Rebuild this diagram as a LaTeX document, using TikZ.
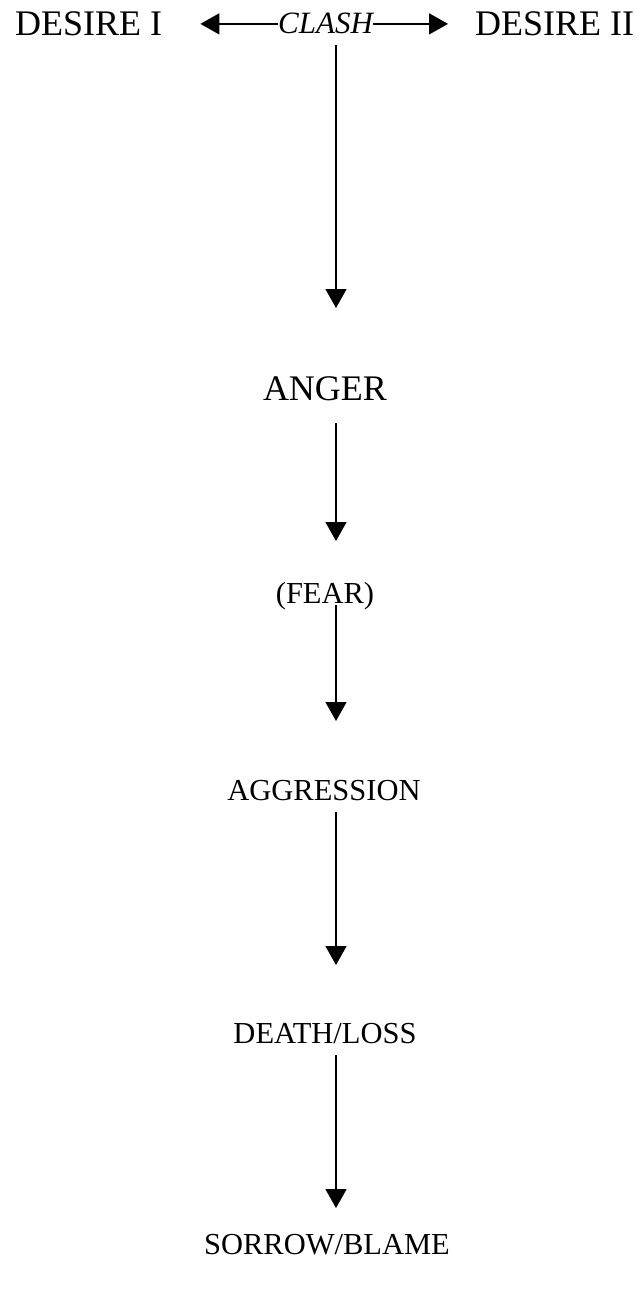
\documentclass[tikz,border=0pt]{standalone}
\usepackage{fontspec}
\setmainfont{Liberation Serif}
\usepackage{tikz}
\usetikzlibrary{arrows.meta}

\tikzset{
  big/.style={inner sep=0pt, font=\fontsize{36}{40}\selectfont},
  small/.style={inner sep=0pt, font=\fontsize{30.5}{34}\selectfont},
  flow/.style={line width=1.6pt, -{Triangle[length=19pt,width=21pt]}}
}

\begin{document}
\begin{tikzpicture}[x=1pt,y=-1pt]
\useasboundingbox (0,0) rectangle (643,1289);
\coordinate (col) at (336,0);
\node[big, anchor=base west] (desireI) at (15,36) {DESIRE I};
\node[big, anchor=base west] (desireII) at (475,36) {DESIRE II};
\node[inner sep=0pt, anchor=base west, font=\fontsize{31}{34}\selectfont\itshape] (clash) at (278,34) {CLASH};
\node[big, anchor=base] (anger) at (325,400) {ANGER};
\node[small, anchor=base] (fear) at (325,603) {(FEAR)};
\node[small, anchor=base] (aggr) at (324,800) {AGGRESSION};
\node[small, anchor=base] (death) at (325,1043) {DEATH/LOSS};
\node[small, anchor=base] (sorrow) at (327,1254) {SORROW/BLAME};
% clash between the two desires
\draw[flow, shorten >=38pt] (clash.west) -- (clash.west -| desireI.east);
\draw[flow, shorten >=27pt] (clash.east) -- (clash.east -| desireII.west);
% the chain down
\draw[flow, shorten <=11pt, shorten >=92pt] (clash.base -| col) -- (anger.base -| col);
\draw[flow, shorten <=23pt, shorten >=62pt] (anger.base -| col) -- (fear.base -| col);
\draw[flow, shorten <=2pt, shorten >=79pt] (fear.base -| col) -- (aggr.base -| col);
\draw[flow, shorten <=12pt, shorten >=78pt] (aggr.base -| col) -- (death.base -| col);
\draw[flow, shorten <=12pt, shorten >=46pt] (death.base -| col) -- (sorrow.base -| col);
\end{tikzpicture}
\end{document}
